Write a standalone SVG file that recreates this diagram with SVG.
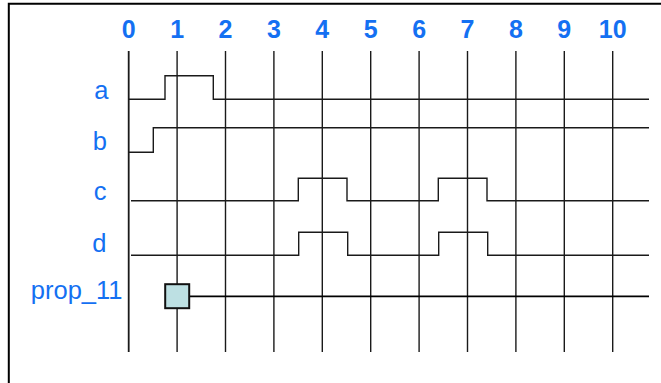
<svg xmlns="http://www.w3.org/2000/svg" width="661" height="383" viewBox="0 0 661 383">
<style>
.num{font-family:"Liberation Sans",Arial,sans-serif;font-weight:bold;font-size:25px;fill:#1470f2;text-anchor:middle}
.lbl{font-family:"Liberation Sans",Arial,sans-serif;font-size:25.5px;fill:#1470f2;text-anchor:end}
.grid{stroke:#1a1a1a;stroke-width:1.4;fill:none}
.sig{stroke:#1a1a1a;stroke-width:1.4;fill:none}
</style>
<rect width="661" height="383" fill="#fff"/>
<path d="M8.8 383 V3.8 H661" fill="none" stroke="#000" stroke-width="2"/>
<g id="ticks">
<text class="num" x="128.7" y="37.8">0</text>
<text class="num" x="177.1" y="37.8">1</text>
<text class="num" x="225.5" y="37.8">2</text>
<text class="num" x="273.9" y="37.8">3</text>
<text class="num" x="322.3" y="37.8">4</text>
<text class="num" x="370.7" y="37.8">5</text>
<text class="num" x="419.1" y="37.8">6</text>
<text class="num" x="467.5" y="37.8">7</text>
<text class="num" x="515.9" y="37.8">8</text>
<text class="num" x="564.3" y="37.8">9</text>
<text class="num" x="612.7" y="37.8">10</text>
</g>
<g id="grid" class="grid">
<line x1="128.7" y1="51" x2="128.7" y2="352" stroke-width="1.8"/>
<line x1="177.1" y1="51" x2="177.1" y2="352"/>
<line x1="225.5" y1="51" x2="225.5" y2="352"/>
<line x1="273.9" y1="51" x2="273.9" y2="352"/>
<line x1="322.3" y1="51" x2="322.3" y2="352"/>
<line x1="370.7" y1="51" x2="370.7" y2="352"/>
<line x1="419.1" y1="51" x2="419.1" y2="352"/>
<line x1="467.5" y1="51" x2="467.5" y2="352"/>
<line x1="515.9" y1="51" x2="515.9" y2="352"/>
<line x1="564.3" y1="51" x2="564.3" y2="352"/>
<line x1="612.7" y1="51" x2="612.7" y2="352"/>
</g>
<g id="signal-a">
<text class="lbl" x="108.5" y="98.5">a</text>
<path class="sig" d="M129 99.3 H165 V75.7 H213.3 V99.3 H649"/>
</g>
<g id="signal-b">
<text class="lbl" x="107" y="150">b</text>
<path class="sig" d="M129 152.3 H153.3 V127.7 H649"/>
</g>
<g id="signal-c">
<text class="lbl" x="106.5" y="200">c</text>
<path class="sig" d="M131 200.7 H298.3 V178.3 H347 V200.7 H438.3 V178.3 H487 V200.7 H649"/>
</g>
<g id="signal-d">
<text class="lbl" x="106.5" y="252.3">d</text>
<path class="sig" d="M131 255.3 H298.7 V232.3 H347.7 V255.3 H438.7 V232.3 H487.7 V255.3 H649"/>
</g>
<g id="prop_11">
<text class="lbl" x="122.5" y="298.7">prop_11</text>
<line x1="189.3" y1="296.3" x2="649" y2="296.3" stroke="#000" stroke-width="1.8"/>
<rect x="165.2" y="284.2" width="24" height="24" fill="#bde0e3" stroke="#111" stroke-width="2"/>
</g>
</svg>
